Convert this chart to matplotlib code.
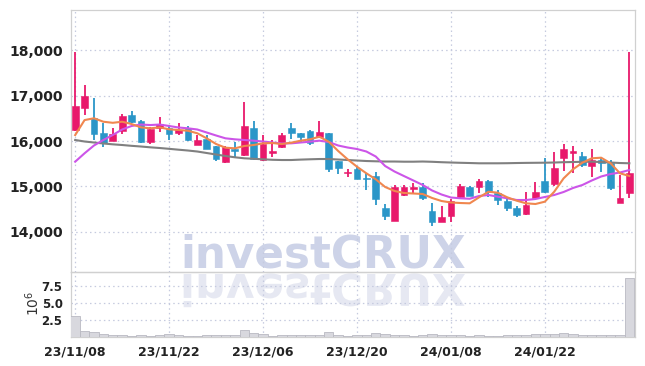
import matplotlib
matplotlib.use("Agg")
import matplotlib.pyplot as plt
import numpy as np
import pandas as pd
from matplotlib.textpath import TextPath
from matplotlib.patches import PathPatch
from matplotlib.font_manager import FontProperties
from matplotlib.transforms import Affine2D

# trading days (KRX calendar)
dates = pd.bdate_range("2023-11-08", "2024-02-02", freq="C",
                       holidays=["2023-12-25", "2023-12-29", "2024-01-01"])

opens = [16240, 16730, 16500, 16170, 16000, 16230, 16570, 16440, 15980, 16290,
         16280, 16180, 16280, 15920, 16050, 15890, 15530, 15820, 15690, 16280,
         15580, 15730, 15870, 16280, 16170, 16230, 16090, 16170, 15570, 15290,
         15380, 15190, 15230, 14520, 14250, 14810, 14940, 14990, 14460, 14220,
         14350, 14760, 14990, 14990, 15120, 14860, 14690, 14520, 14390, 14750,
         15120, 15050, 15620, 15730, 15670, 15450, 15580, 15520, 14630, 14860]
highs = [17950, 17230, 16940, 16390, 16280, 16590, 16660, 16460, 16300, 16520,
         16320, 16390, 16330, 16130, 16130, 15900, 15900, 15980, 16860, 16430,
         16130, 16020, 16170, 16390, 16170, 16240, 16450, 16180, 15570, 15380,
         15450, 15300, 15320, 14610, 15030, 15030, 15070, 15080, 14640, 14580,
         14720, 15050, 15020, 15160, 15140, 14920, 14770, 14570, 14880, 15100,
         15620, 15750, 15930, 15890, 15760, 15820, 15650, 15580, 15250, 17950]
lows = [16230, 16570, 16030, 15860, 16000, 16150, 16390, 15950, 15930, 16200,
        16020, 16130, 16000, 15920, 15820, 15570, 15510, 15640, 15670, 15580,
        15570, 15650, 15840, 16040, 15950, 15910, 16080, 15320, 15270, 15210,
        15160, 14920, 14590, 14260, 14240, 14790, 14830, 14700, 14130, 14210,
        14220, 14740, 14780, 14860, 14770, 14590, 14470, 14320, 14370, 14740,
        14860, 15010, 15350, 15290, 15420, 15200, 15320, 14920, 14630, 14740]
closes = [16770, 16990, 16160, 15960, 16150, 16560, 16420, 15980, 16260, 16370,
          16150, 16240, 16020, 16020, 15830, 15610, 15860, 15770, 16330, 15600,
          15930, 15770, 16130, 16170, 16090, 15950, 16190, 15380, 15410, 15320,
          15170, 15160, 14720, 14350, 14990, 14990, 14990, 14740, 14210, 14320,
          14680, 15010, 14800, 15120, 14880, 14700, 14520, 14370, 14590, 14880,
          14880, 15400, 15820, 15770, 15470, 15580, 15520, 14960, 14740, 15290]
volumes = [3.0, 0.9, 0.75, 0.45, 0.3, 0.25, 0.22, 0.25, 0.2, 0.25,
           0.45, 0.25, 0.2, 0.2, 0.25, 0.25, 0.3, 0.25, 1.05, 0.65,
           0.45, 0.2, 0.35, 0.3, 0.25, 0.3, 0.3, 0.75, 0.3, 0.2,
           0.25, 0.3, 0.6, 0.45, 0.35, 0.25, 0.2, 0.25, 0.45, 0.25,
           0.3, 0.3, 0.2, 0.25, 0.2, 0.2, 0.25, 0.3, 0.35, 0.4,
           0.45, 0.5, 0.6, 0.45, 0.3, 0.3, 0.25, 0.35, 0.3, 8.6]  # x 1e6

ma_fast = [16130, 16460, 16500, 16424, 16400, 16424, 16373, 16300, 16279, 16300,
           16257, 16242, 16226, 16170, 16059, 15934, 15853, 15839, 15890, 15912,
           15949, 15956, 15934, 15963, 16007, 16037, 16094, 15984, 15780, 15598,
           15435, 15290, 15158, 14989, 14901, 14857, 14846, 14835, 14747, 14681,
           14648, 14637, 14630, 14762, 14885, 14863, 14762, 14688, 14630, 14615,
           14666, 14885, 15179, 15378, 15523, 15620, 15633, 15510, 15290, 15231]
ma_mid = [15545, 15730, 15901, 16022, 16132, 16253, 16330, 16362, 16351, 16362,
          16330, 16297, 16279, 16253, 16187, 16121, 16059, 16037, 16022, 16007,
          15989, 15967, 15945, 15949, 15967, 15985, 16007, 15978, 15901, 15857,
          15824, 15769, 15659, 15450, 15329, 15230, 15132, 15033, 14912, 14824,
          14758, 14741, 14730, 14791, 14813, 14776, 14741, 14703, 14703, 14725,
          14769, 14813, 14879, 14967, 15033, 15132, 15220, 15274, 15307, 15362]
ma_slow = [16022, 15989, 15967, 15945, 15927, 15912, 15894, 15879, 15861, 15846,
           15828, 15809, 15791, 15769, 15736, 15703, 15670, 15642, 15620, 15609,
           15598, 15587, 15582, 15582, 15591, 15598, 15604, 15604, 15593, 15582,
           15571, 15560, 15554, 15549, 15549, 15545, 15545, 15549, 15543, 15534,
           15527, 15521, 15516, 15510, 15510, 15510, 15512, 15516, 15519, 15521,
           15523, 15527, 15534, 15538, 15543, 15545, 15538, 15527, 15516, 15510]

UP = "#e8196b"
DOWN = "#2b96c8"
GRID = "#c5cadf"
SPINE = "#d0d0d0"

plt.rcParams["font.family"] = "DejaVu Sans"
tick_font = dict(family="DejaVu Sans", weight="bold")

fig = plt.figure(figsize=(6.45, 3.66), dpi=100)
ax = fig.add_axes([0.110, 0.2568, 0.8745, 0.7159])
axv = fig.add_axes([0.110, 0.0792, 0.8745, 0.1776], sharex=ax)

x = np.arange(len(dates))
o = np.array(opens)
c = np.array(closes)
up = c >= o
colors = np.where(up, UP, DOWN)

ax.vlines(x, lows, highs, colors=colors, linewidth=1.3, zorder=3)
ax.bar(x, np.maximum(np.abs(c - o), 25), bottom=np.minimum(o, c), width=0.72,
       color=colors, edgecolor=colors, linewidth=0.4, zorder=4)

ax.plot(x, ma_slow, color="#808080", lw=1.5, zorder=5)
ax.plot(x, ma_mid, color="#cc55e8", lw=1.5, zorder=5)
ax.plot(x, ma_fast, color="#f0874f", lw=1.5, zorder=5)

axv.bar(x, np.array(volumes) * 1e6, width=1.0, color="#d8d8de",
        edgecolor="#b9b9c2", linewidth=0.6, zorder=3)

ax.set_ylim(13120, 18880)
ax.set_yticks([14000, 15000, 16000, 17000, 18000])
ax.set_yticklabels(["14,000", "15,000", "16,000", "17,000", "18,000"], **tick_font, fontsize=10)
ax.set_xlim(-0.45, 59.6)

axv.set_ylim(0, 9.5e6)
axv.set_yticks([2.5e6, 5e6, 7.5e6])
axv.set_yticklabels(["2.5", "5.0", "7.5"], **tick_font, fontsize=8.5)
axv.set_ylabel(r"$10^6$", fontsize=10, color="#333333")
axv.yaxis.set_label_coords(-0.052, 0.52)

tick_idx = [0, 10, 20, 30, 40, 50]
axv.set_xticks(tick_idx)
axv.set_xticklabels([dates[i].strftime("%y/%m/%d") for i in tick_idx], **tick_font, fontsize=9)
plt.setp(ax.get_xticklabels(), visible=False)

for a in (ax, axv):
    a.set_facecolor("none")
    a.grid(True, color=GRID, linestyle=(0, (1.2, 2.5)), linewidth=0.9)
    a.set_axisbelow(True)
    a.tick_params(length=0, pad=6, colors="#222222")
    for s in a.spines.values():
        s.set_color(SPINE)
        s.set_linewidth(0.9)

# watermark: real text, plus its mirrored reflection under the pane border
fp = FontProperties(family="DejaVu Sans", weight="bold")
tp = TextPath((0, 0), "investCRUX", size=1, prop=fp)
ext = tp.get_extents()
px_per_pt = fig.dpi / 72
wm_size = 285 / (ext.x1 * px_per_pt)
base = 366 - 268
fig.text(180 / 645, base / 366, "investCRUX", family="DejaVu Sans", weight="bold",
         fontsize=wm_size, color="#cdd3e8", va="baseline", ha="left", zorder=-1)
k = wm_size * px_per_pt
refl_tr = Affine2D().scale(k, -k).translate(180, base - 6)
fig.patches.append(PathPatch(refl_tr.transform_path(tp), facecolor="#e6e8f2",
                             edgecolor="none", transform=None, zorder=-1, figure=fig))

fig.savefig("out.png", dpi=100)
